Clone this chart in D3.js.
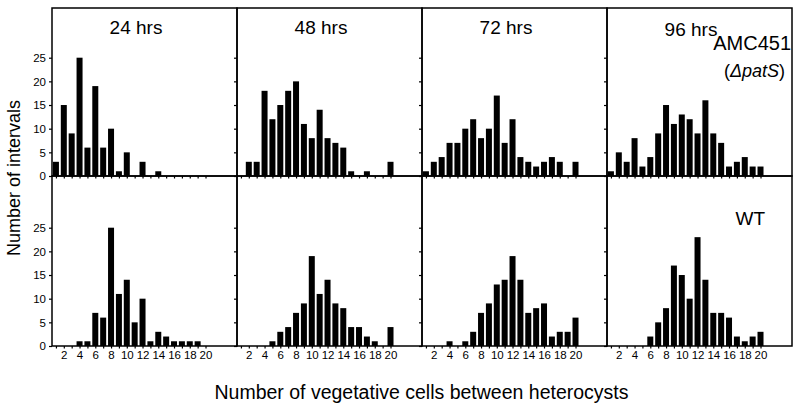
<!DOCTYPE html>
<html>
<head>
<meta charset="utf-8">
<script src="https://cdnjs.cloudflare.com/ajax/libs/d3/7.8.5/d3.min.js"></script>
<style>
  body { margin: 0; background: #fff; }
  svg text { font-family: "Liberation Sans", Arial, Helvetica, sans-serif; fill: #000; }
</style>
</head>
<body>
<div id="chart"></div>
<script>
// Data: interval counts for 1..20 vegetative cells between heterocysts
var cells = d3.range(1, 21);
var hours = ["24 hrs", "48 hrs", "72 hrs", "96 hrs"];
var strains = ["AMC451", "WT"];

var amc451_24 = [3, 15, 9, 25, 6, 19, 6, 10, 1, 5, 0, 3, 0, 1, 0, 0, 0, 0, 0, 0];
var amc451_48 = [0, 3, 3, 18, 12, 15, 18, 20, 11, 8, 14, 8, 7, 6, 1, 0, 1, 0, 0, 3];
var amc451_72 = [1, 3, 4, 7, 7, 10, 12, 8, 10, 17, 7, 12, 4, 3, 2, 3, 4, 3, 0, 3];
var amc451_96 = [1, 5, 3, 8, 2, 4, 9, 15, 11, 13, 12, 9, 16, 9, 7, 2, 3, 4, 2, 2];
var wt_24 = [0, 0, 0, 1, 1, 7, 6, 25, 11, 14, 5, 10, 1, 3, 2, 1, 1, 1, 1, 0];
var wt_48 = [0, 0, 0, 0, 1, 3, 4, 7, 9, 19, 11, 14, 9, 8, 4, 4, 2, 1, 0, 4];
var wt_72 = [0, 0, 0, 1, 0, 1, 3, 7, 9, 13, 14, 19, 14, 7, 8, 9, 2, 3, 3, 6];
var wt_96 = [0, 0, 0, 0, 0, 2, 5, 8, 17, 15, 10, 23, 14, 7, 7, 6, 2, 1, 2, 3];

var yTicks = [0, 5, 10, 15, 20, 25];
var rows = [
  [amc451_24, amc451_48, amc451_72, amc451_96],
  [wt_24, wt_48, wt_72, wt_96]
];

// Layout
var width = 800, height = 407;
var left = 52, pw = 185;
var rowTop = [8, 176], rowBottom = [176, 346];
var barW = 6;

var svg = d3.select("#chart").append("svg")
    .attr("width", width).attr("height", height);

var x = d3.scaleLinear().domain([0.5, 24]).range([0, pw]);

rows.forEach(function(row, r) {
  var y = d3.scaleLinear().domain([0, 25])
      .range([rowBottom[r], rowBottom[r] - 118.3]);

  row.forEach(function(vals, c) {
    var g = svg.append("g").attr("transform", "translate(" + (left + c * pw) + ",0)");

    // bars
    g.selectAll(".bar").data(vals).enter().append("rect")
      .attr("class", "bar")
      .attr("x", function(d, i) { return x(cells[i]) - barW / 2; })
      .attr("width", barW)
      .attr("y", function(d) { return y(d); })
      .attr("height", function(d) { return y(0) - y(d); })
      .attr("fill", "#000");

    // x axis (minor ticks each cell, labels on bottom row only)
    var xa = g.append("g").attr("transform", "translate(0," + rowBottom[r] + ")")
      .call(d3.axisBottom(x).tickValues(cells).tickSize(2.5).tickPadding(2)
        .tickFormat(function(d) { return (r == 1 && d % 2 == 0) ? d : ""; }));
    xa.select(".domain").remove();
    xa.selectAll("line").attr("stroke-width", 1.2);
    xa.selectAll("text").attr("font-size", 11.5).style("font-family", null);

    // y axis (outward ticks, labels on first panel only)
    var ya = g.append("g")
      .call(d3.axisLeft(y).tickValues(yTicks).tickSize(3).tickPadding(3)
        .tickFormat(function(d) { return c == 0 ? d : ""; }));
    ya.select(".domain").remove();
    ya.selectAll("line").attr("stroke-width", 1.2);
    ya.selectAll("text").attr("font-size", 11.5).style("font-family", null);

    // panel frame
    g.append("rect")
      .attr("x", 0).attr("y", rowTop[r])
      .attr("width", pw).attr("height", rowBottom[r] - rowTop[r])
      .attr("fill", "none").attr("stroke", "#000").attr("stroke-width", 1.5);

    if (r == 0) {
      g.append("text")
        .attr("x", 84).attr("y", c == 3 ? 35.5 : 33.5)
        .attr("text-anchor", "middle").attr("font-size", 19)
        .text(hours[c]);
    }
  });
});

// strain labels
svg.append("text").attr("x", 791).attr("y", 50).attr("text-anchor", "end")
  .attr("font-size", 20).text(strains[0]);
var sub = svg.append("text").attr("x", 785).attr("y", 77).attr("text-anchor", "end")
  .attr("font-size", 18);
sub.append("tspan").text("(");
sub.append("tspan").attr("font-style", "italic").text("\u0394patS");
sub.append("tspan").text(")");
svg.append("text").attr("x", 765).attr("y", 224.5).attr("text-anchor", "end")
  .attr("font-size", 19).text(strains[1]);

// axis titles
svg.append("text")
  .attr("transform", "translate(19.5,178) rotate(-90)")
  .attr("text-anchor", "middle").attr("font-size", 18)
  .text("Number of intervals");
svg.append("text")
  .attr("x", 421.5).attr("y", 398.5)
  .attr("text-anchor", "middle").attr("font-size", 19.5)
  .text("Number of vegetative cells between heterocysts");
</script>
</body>
</html>
